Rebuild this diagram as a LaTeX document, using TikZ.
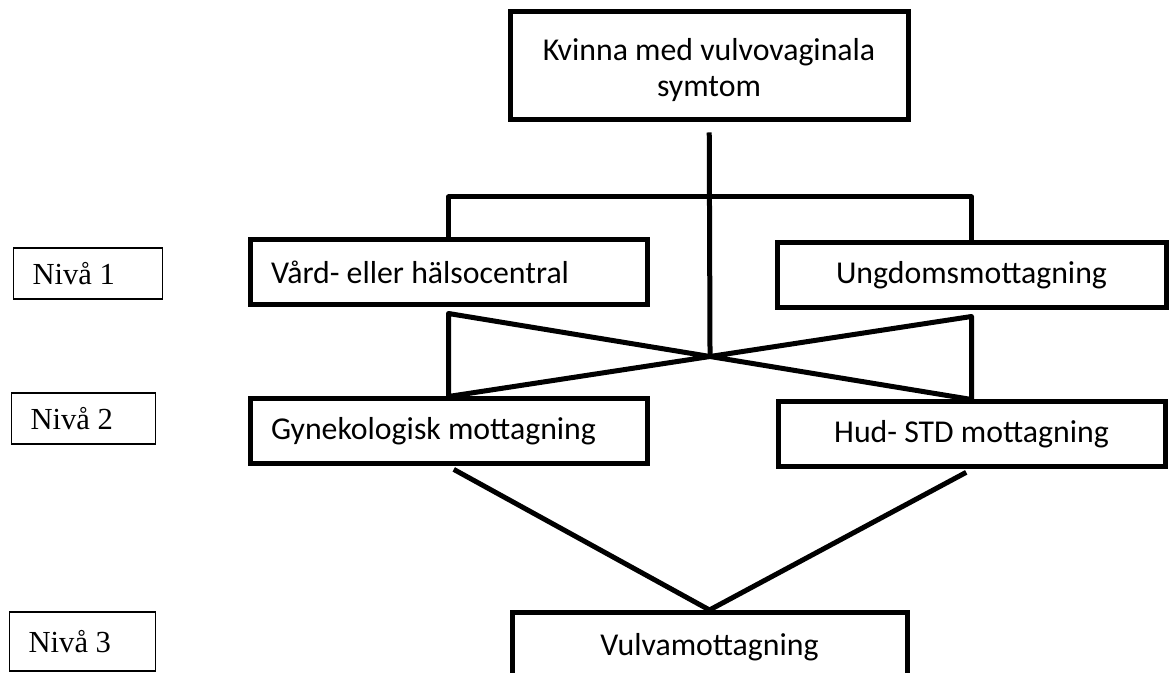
\documentclass[tikz,border=0pt]{standalone}
\usepackage{fontspec}
\setmainfont{Liberation Serif}
\newfontfamily\carlito{Carlito}
\usetikzlibrary{positioning}

\begin{document}
\begin{tikzpicture}[x=0.5pt,y=-0.5pt,node distance=79.5pt,
	box/.style={draw,line width=2.5pt,inner sep=0pt,minimum height=32.5pt,
		font=\carlito\fontsize{15.9}{18}\selectfont},
	niva/.style={draw,line width=0.6pt,anchor=west,minimum height=25.5pt,
		inner xsep=9.5pt,align=flush left,font=\fontsize{15.3}{18}\selectfont},
	link/.style={line width=2.5pt,line join=round}]
	
	\useasboundingbox (0,0) rectangle (1169,673);
	\clip (0,0) rectangle (1169,673);
	
	\node[box,minimum width=199pt,minimum height=54pt,align=center] (kvinna) at (709,66) {\raisebox{-2.5pt}[\height][\depth]{\begin{tabular}{@{}c@{}}Kvinna med vulvovaginala\\symtom\end{tabular}}};
	
	\node[box,minimum width=198.5pt,inner xsep=10.5pt,text width=177.5pt,align=flush left] (vard) at (448.5,272.5) {Vård- eller hälsocentral};
	\node[box,minimum width=194.5pt] (ungdom) at (971.5,275.5) {Ungdomsmottagning};
	
	\node[box,minimum width=198.5pt,inner xsep=10.5pt,text width=177.5pt,align=flush left] (gyn) [below of=vard] {Gynekologisk mottagning};
	\node[box,minimum width=193.5pt] (hud) [below of=ungdom] {Hud- STD mottagning};
	
	\node[box,anchor=north,minimum width=197.5pt,inner ysep=6pt,text height=15.5pt,text depth=20pt] (vulva) at (709.5,610) {Vulvamottagning};
	
	% levels
	\node[niva,text width=55.5pt] (niva1) at (13,273.5) {Nivå 1};
	\node[niva,text width=53pt] (niva2) at (11,418.5) {Nivå 2};
	\node[niva,text width=54pt,minimum height=29.5pt] (niva3) at (9,641.5) {Nivå 3};
	
	\coordinate (bar) at (709,197);
	\coordinate[below=3pt of vard.south] (vardfoot);
	\coordinate[below=3pt of ungdom.south] (ungfoot);
	\coordinate (mid) at (intersection of vardfoot--hud.north and ungfoot--gyn.north);
	
	\draw[link,shorten <=5pt] (kvinna) -- (mid);
	\draw[link] (vard) |- (bar) -| (ungdom);
	\draw[link] (vardfoot) -- (gyn.north) -- (ungfoot) -- (hud.north) -- cycle;
	\draw[link,shorten <=3pt] (gyn.south) -- (vulva.north);
	\draw[link,shorten <=3pt] (hud.south) -- (vulva.north);
\end{tikzpicture}
\end{document}
